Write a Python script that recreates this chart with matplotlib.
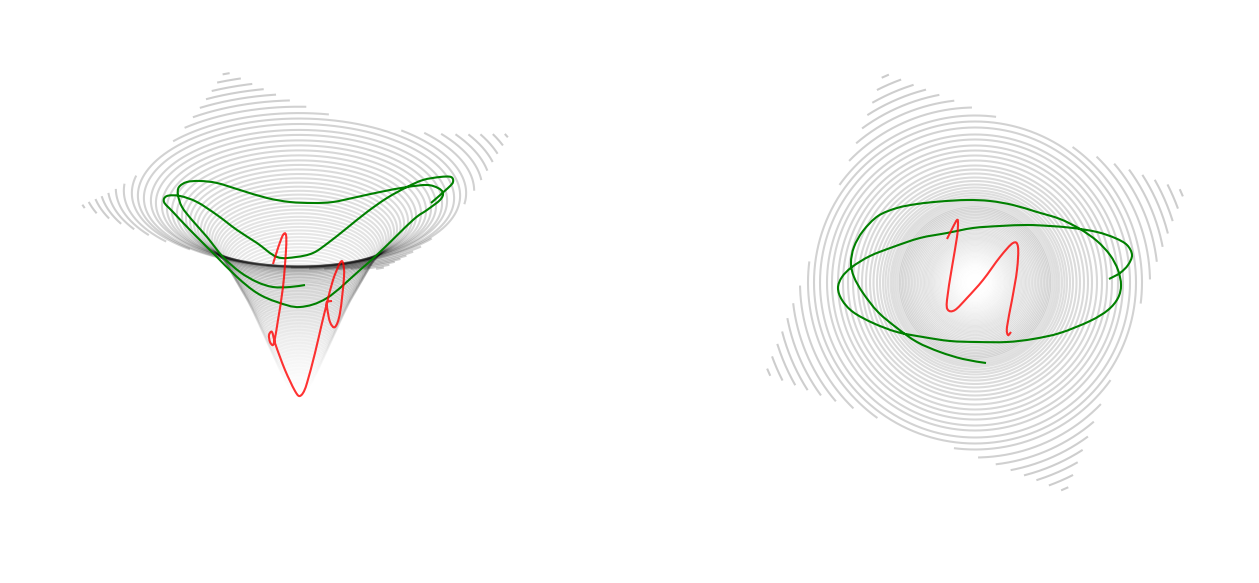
import numpy as np
import matplotlib
matplotlib.use("Agg")
import matplotlib.pyplot as plt
from matplotlib.path import Path
from matplotlib.patches import PathPatch

W, H = 1259, 583

# ring radius of each contour level, outermost first (pixels in the top view)
ring_radius = [225, 216, 207, 199, 191, 183, 175, 167, 161, 155, 148, 143, 137, 132, 127, 122, 117, 113, 109, 105,
               101.5, 98, 95, 92, 89.5, 87, 84.5, 82.5, 80.5, 78.5, 76.5, 75, 73.5, 72, 70.5, 69, 67.5, 66, 64.5,
               63, 61.5, 60, 58.5, 57, 55.5, 54, 52.6, 51.2, 49.9, 48.6, 47.3, 46, 44.8, 43.6, 42.4, 41.2, 40, 38.8,
               37.6, 36.4, 35.2, 34, 32.8, 31.6, 30.4, 29.2, 28, 26.8, 25.6, 24.4, 23.2, 22, 20.8, 19.6, 18.3, 17,
               15.6, 14.2, 12.8, 11.2, 9.6, 8, 5]
# screen height of each level's centre in the perspective panel
ring_height = [171, 173.7, 176.4, 179.1, 181.8, 184.5, 187.2, 189.9, 192.6, 195.3, 198, 200.7, 203.4, 206.1, 208.8,
               211.5, 214.2, 216.9, 219.6, 222.3, 225, 227.7, 230.4, 233.1, 235.8, 238.5, 241.2, 243.9, 246.6, 249.3,
               252, 254.7, 257.4, 260.1, 262.8, 265.5, 268.2, 270.9, 273.6, 276.3, 279, 281.7, 284.4, 287.1, 289.8,
               292.5, 295.2, 297.9, 300.6, 303.3, 306, 308.7, 311.4, 314.1, 316.8, 319.5, 322.2, 324.9, 327.6, 330.3,
               333, 335.7, 338.4, 341.1, 343.8, 346.5, 349.2, 351.9, 354.6, 357.3, 360, 362.7, 365.4, 368.1, 370.8,
               373.5, 376.2, 378.9, 381.6, 384.3, 387, 389.7, 392.4]

# the square sampling domain: corner radius and the rotation of its corners in each panel
domain_corner_radius = 229
left_corner_angles = [-20, 70, 160, 250]
right_corner_angles = [-23.5, 66.5, 156.5, 246.5]

# trajectories, perspective panel
left_green_x = [305, 290, 273, 257, 240, 223, 207, 192, 182, 178, 179, 187, 200, 217, 240, 267, 290, 313, 333, 357,
                380, 407, 427, 438, 443, 440, 427, 413, 380, 360, 327, 300, 277, 257, 237, 213, 190, 173, 164, 167,
                180, 197, 217, 237, 257, 277, 296, 313, 328, 347, 367, 387, 407, 423, 440, 451, 453, 448, 431]
left_green_y = [285, 287, 287, 282, 272, 257, 237, 220, 207, 195, 187, 182, 181, 183, 190, 198, 202, 203, 202, 197,
                192, 187, 185, 188, 193, 200, 210, 220, 252, 270, 298, 307, 302, 293, 277, 253, 230, 212, 202, 196,
                196, 202, 215, 230, 243, 257, 257, 253, 243, 228, 212, 198, 187, 180, 177, 177, 182, 188, 203]
left_red_x = [273, 278, 283, 286, 286, 283, 278, 275, 273, 270, 269, 272, 275, 280, 285, 290, 295, 299, 303, 307,
              315, 322, 327, 333, 340, 343, 344, 340, 335, 330, 327, 327, 332]
left_red_y = [264, 248, 235, 235, 250, 287, 320, 338, 345, 342, 335, 332, 343, 357, 370, 381, 391, 396, 393, 383,
              353, 323, 303, 280, 263, 263, 277, 313, 327, 322, 307, 302, 301]
# trajectories, top view
right_green_x = [986, 963, 940, 917, 897, 878, 863, 854, 851, 854, 863, 878, 897, 917, 940, 967, 990, 1013, 1037,
                 1060, 1080, 1097, 1110, 1118, 1121, 1118, 1108, 1090, 1060, 1033, 1007, 977, 950, 923, 897, 873,
                 853, 842, 838, 842, 852, 870, 893, 920, 947, 973, 1000, 1027, 1050, 1073, 1097, 1115, 1127, 1132,
                 1128, 1120, 1109]
right_green_y = [363, 359, 352, 342, 328, 312, 293, 277, 263, 247, 231, 216, 208, 204, 201.5, 200, 201, 205, 212,
                 219, 229, 241, 255, 270, 285, 298, 310, 321, 333, 339, 342, 342, 341, 337, 332, 323, 312, 300,
                 288, 277, 267, 256, 247, 238, 233, 228, 226, 225, 226, 228, 232, 238, 245, 255, 265, 273, 279]
right_red_x = [947, 953, 957, 958, 957, 952, 947, 948, 955, 967, 983, 1000, 1013, 1018, 1017, 1012, 1007, 1008, 1011]
right_red_y = [239, 227, 220, 223, 237, 267, 300, 310, 310, 298, 280, 257, 243, 247, 270, 300, 327, 335, 332]


def smooth_path(xs, ys):
    """Bezier path through the read points, only so the pen line renders round."""
    p = np.column_stack([xs, ys]).astype(float)
    verts, codes = [p[0]], [Path.MOVETO]
    for i in range(len(p) - 1):
        a = p[max(i - 1, 0)]
        b, c = p[i], p[i + 1]
        d = p[min(i + 2, len(p) - 1)]
        verts += [b + (c - a) / 6, c - (d - b) / 6, c]
        codes += [Path.CURVE4] * 3
    return Path(verts, codes)


def domain(angles):
    a = np.radians(angles)
    return Path(np.column_stack([domain_corner_radius * np.cos(a), domain_corner_radius * np.sin(a)]))


fig = plt.figure(figsize=(W / 100, H / 100), dpi=100)
ax = fig.add_axes([0, 0, 1, 1])
ax.set_xlim(0, W)
ax.set_ylim(H, 0)
ax.axis("off")

theta = np.radians(np.arange(0, 360.25, 0.25))
n = len(ring_radius)
CX_L, CX_R, CY_R, TILT = 299, 975, 282.5, 0.46
left_domain, right_domain = domain(left_corner_angles), domain(right_corner_angles)

for i, (r, yc) in enumerate(zip(ring_radius, ring_height)):
    alpha = 0.2 * (1 - i / n) ** 1.3
    u, v = r * np.cos(theta), r * np.sin(theta)
    pts = np.column_stack([u, v])
    lx = CX_L + u * (1 + 0.00025 * v)
    ly = yc + TILT * v
    lm = left_domain.contains_points(pts)
    rm = right_domain.contains_points(pts)
    ax.plot(np.where(lm, lx, np.nan), ly, color="k", alpha=alpha, lw=1.5, solid_capstyle="butt")
    ax.plot(np.where(rm, CX_R + u, np.nan), CY_R + v, color="k", alpha=alpha, lw=1.5, solid_capstyle="butt")

for xs, ys, col, al in [(left_green_x, left_green_y, "green", 1.0),
                        (right_green_x, right_green_y, "green", 1.0),
                        (left_red_x, left_red_y, "red", 0.8),
                        (right_red_x, right_red_y, "red", 0.8)]:
    ax.add_patch(PathPatch(smooth_path(xs, ys), fill=False, edgecolor=col, alpha=al, lw=1.5, zorder=5))

fig.savefig("out.png", dpi=100)
